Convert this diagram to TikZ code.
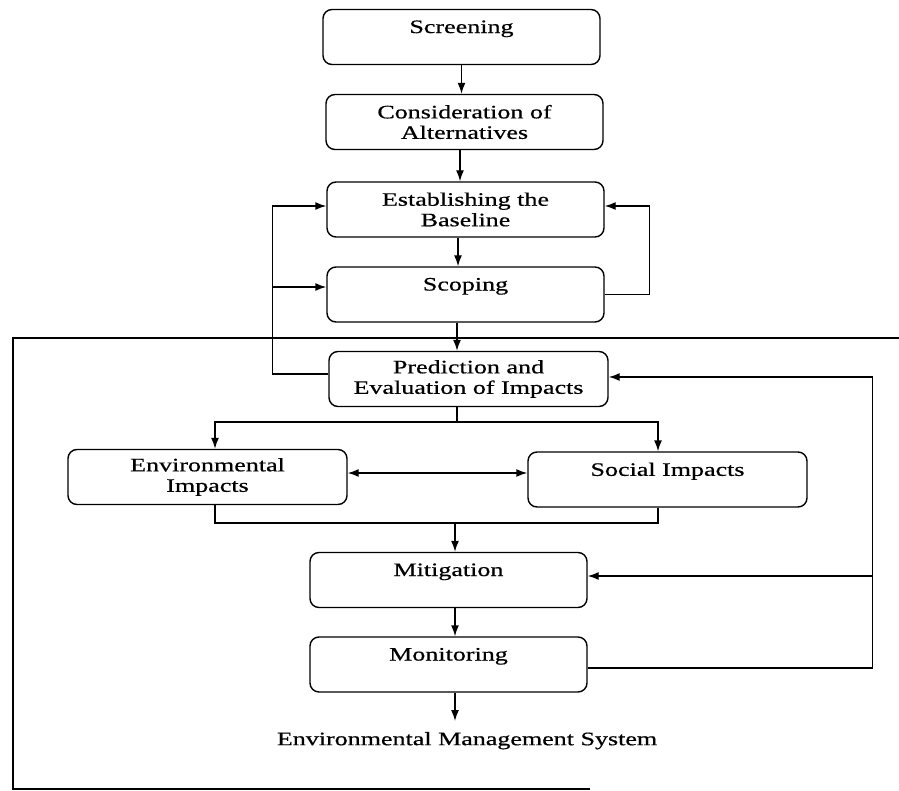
\documentclass[tikz,border=0pt]{standalone}
\usepackage{fontspec}
\setmainfont[FakeStretch=1.37,FakeBold=0.6]{Liberation Serif}
\usetikzlibrary{arrows.meta}
\tikzset{
stage/.style={draw, rounded corners=9pt, minimum width=277pt, minimum height=55pt, inner sep=0pt, align=center, font=\fontsize{19}{20.5}\selectfont},
arr/.style={-{Latex[length=11pt,width=8pt]}},
arrboth/.style={{Latex[length=11pt,width=8pt]}-{Latex[length=11pt,width=8pt]}},
}
\begin{document}
\begin{tikzpicture}[x=1pt,y=-1pt,line width=1.4pt]
\useasboundingbox (0,0) rectangle (899,791);
\draw (899,338) -- (13,338) -- (13,789) -- (590,789);

\node[stage] (screen) at (461.5,37) {Screening\\\mbox{}};
\node[stage] (consid) at (464.5,122) {Consideration of\\Alternatives};
\node[stage] (base) at (465.5,209.5) {Establishing the\\Baseline};
\node[stage] (scope) at (465.5,294.5) {Scoping\\\mbox{}};
\node[stage,minimum width=279pt] (predict) at (468.5,379) {Prediction and\\Evaluation of Impacts};
\node[stage,minimum width=279pt] (envimp) at (207.5,477) {Environmental\\Impacts};
\node[stage,minimum width=279pt] (socimp) at (667.5,479.5) {Social Impacts\\\mbox{}};
\node[stage] (mitig) at (448.5,580) {Mitigation\\\mbox{}};
\node[stage] (monit) at (448.5,664.5) {Monitoring\\\mbox{}};
\node[anchor=north, inner sep=0pt, outer sep=11pt, font=\fontsize{19}{20.5}\selectfont] (ems) at (467,721) {Environmental Management System};

\coordinate (tee) at (273,287);
\coordinate (split) at (457,422);
\coordinate (merge) at (455,523);
\coordinate (fb) at (872,576);

\draw[arr] (screen.south) -- (screen.south |- consid.north);
\draw[arr] ([xshift=-4.5pt]consid.south) -- ([xshift=-4.5pt]consid.south |- base.north);
\draw[arr] ([xshift=-7.5pt]base.south) -- ([xshift=-7.5pt]base.south |- scope.north);
\draw[arr] ([xshift=-8.5pt]scope.south) -- ([xshift=-11.5pt]predict.north);

\draw[arr] ([yshift=5pt]predict.west) -- ++(-56,0) |- ([yshift=3.5pt]base.west);
\draw[arr] (tee) -- ([yshift=7.5pt]scope.west);
\draw[arr] (scope.east) -- ++(45,0) |- ([yshift=3.5pt]base.east);

\draw ([xshift=-11.5pt]predict.south) -- (split);
\draw[arr] (split) -| ([xshift=7.5pt]envimp.north);
\draw[arr] (split) -| ([xshift=-9.5pt]socimp.north);
\draw[arrboth] ([yshift=4pt]envimp.east) -- ([yshift=6.5pt]socimp.west);

\draw ([xshift=7.5pt]envimp.south) |- (merge);
\draw ([xshift=-9.5pt]socimp.south) |- (merge);
\draw[arr] (merge) -- ([xshift=6.5pt]mitig.north);
\draw[arr] ([xshift=6.5pt]mitig.south) -- ([xshift=6.5pt]monit.north);
\draw[arr] ([xshift=6.5pt]monit.south) -- ([xshift=6.5pt]monit.south |- ems.north);

\draw[arr] ([yshift=-3.5pt]monit.east) -- ++(285,0) |- ([yshift=2pt]predict.east);
\draw[arr] (fb) -- ([yshift=4pt]mitig.east);
\end{tikzpicture}
\end{document}
